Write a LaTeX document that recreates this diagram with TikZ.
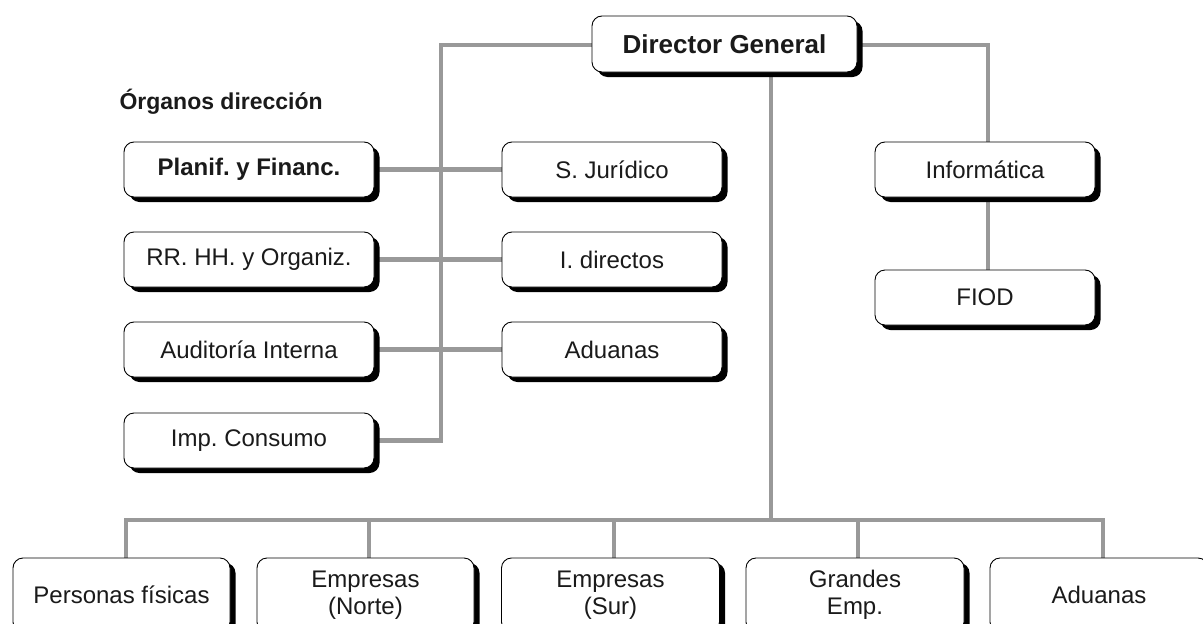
\documentclass[tikz,border=0pt]{standalone}
\usepackage{fontspec}
\setmainfont{Liberation Sans}
\usetikzlibrary{shadows,backgrounds,calc}
\frenchspacing
\definecolor{linegray}{HTML}{999999}
\definecolor{txt}{HTML}{1A1A1A}
\tikzset{
  orgbox/.style={draw=black, line width=0.9pt, fill=white, rounded corners=10pt,
    minimum height=55pt, inner sep=0pt, align=center, text=txt,
    font=\fontsize{24}{27}\selectfont,
    drop shadow={shadow xshift=5.5pt, shadow yshift=-5pt, fill=black, opacity=1}},
  conn/.style={draw=linegray, line width=4.5pt},
}
\begin{document}
\begin{tikzpicture}[x=1pt,y=-1pt]
\useasboundingbox (0,0) rectangle (1203,624);
\clip (0,0) rectangle (1203,624);

\node[font=\bfseries\fontsize{23}{25}\selectfont, text=txt, anchor=west] (title) at (116,102) {Órganos dirección};

\node[orgbox, minimum width=265pt, minimum height=56pt, font=\bfseries\fontsize{26}{26}\selectfont] (dg) at (724.5,44) {Director General};

\node[orgbox, minimum width=250pt, font=\bfseries\fontsize{24}{24}\selectfont] (pf) at (249,169.5) {Planif. y Financ.};
\node[orgbox, minimum width=250pt] (rr) at (249,259.5) {RR. HH. y Organiz.};
\node[orgbox, minimum width=250pt] (ai) at (249,349.5) {Auditoría Interna};
\node[orgbox, minimum width=250pt] (ic) at (249,440.5) {Imp. Consumo};

\node[orgbox, minimum width=220pt] (sj) at (612,169.5) {S. Jurídico};
\node[orgbox, minimum width=220pt] (id) at (612,259.5) {I. directos};
\node[orgbox, minimum width=220pt] (ad) at (612,349.5) {Aduanas};

\node[orgbox, minimum width=220pt] (inf) at (985,169.5) {Informática};
\node[orgbox, minimum width=220pt] (fiod) at (985,297.5) {FIOD};

\node[orgbox, minimum width=217pt, minimum height=74pt] (b1) at (121.5,595) {Personas físicas};
\node[orgbox, minimum width=217pt, minimum height=74pt] (b2) at (365.5,595) {Empresas\\(Norte)};
\node[orgbox, minimum width=218pt, minimum height=74pt] (b3) at (610.5,595) {Empresas\\(Sur)};
\node[orgbox, minimum width=218pt, minimum height=74pt] (b4) at (855,595) {Grandes\\Emp.};
\node[orgbox, minimum width=218pt, minimum height=74pt] (b5) at (1099,595) {Aduanas};

\coordinate (vtop) at (441,45);
\coordinate (vbot) at (441,440.5);
\coordinate (rtop) at (988,45);
\coordinate (dgs) at (771,72);
\coordinate (bus) at (771,520);
\coordinate (busL) at (126,520);
\coordinate (busR) at (1103,520);
\coordinate (d2) at (369,520);
\coordinate (d3) at (614,520);
\coordinate (d4) at (858,520);

\begin{pgfonlayer}{background}
\draw[conn] (dg.west |- vtop) -- (vtop) -- (vbot) -- (ic.east |- vbot);
\draw[conn] (dg.east |- rtop) -- (rtop) -- (rtop |- inf.north);
\draw[conn] (rtop |- inf.south) -- (rtop |- fiod.north);
\draw[conn] (pf.east) -- (sj.west);
\draw[conn] (rr.east) -- (id.west);
\draw[conn] (ai.east) -- (ad.west);
\draw[conn] (dgs) -- (bus);
\draw[conn, line cap=rect] (busL) -- (busR);
\draw[conn] (busL) -- (busL |- b1.north);
\draw[conn] (d2) -- (d2 |- b2.north);
\draw[conn] (d3) -- (d3 |- b3.north);
\draw[conn] (d4) -- (d4 |- b4.north);
\draw[conn] (busR) -- (busR |- b5.north);
\end{pgfonlayer}
\end{tikzpicture}
\end{document}
